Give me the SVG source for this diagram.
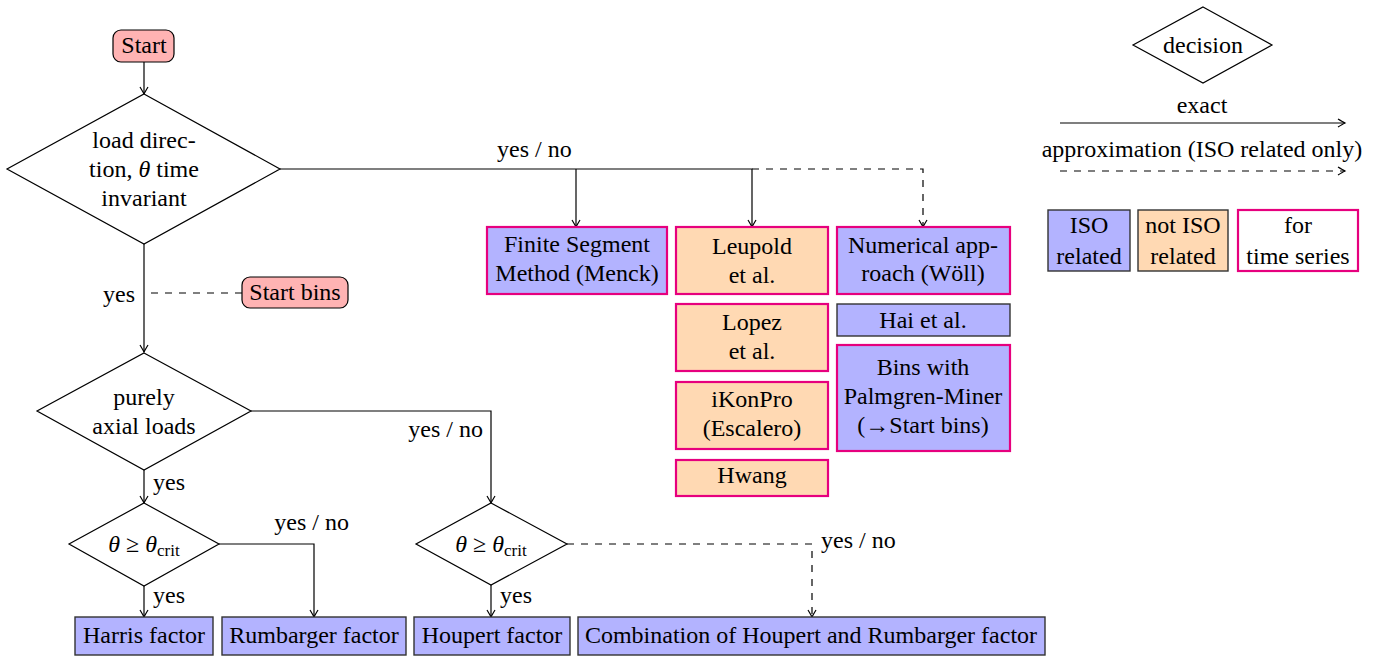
<svg xmlns="http://www.w3.org/2000/svg" width="1379" height="656" viewBox="0 0 1379 656">
<style>
text{font-family:Liberation Serif,Tinos,Times New Roman,Times,serif;font-size:24px;fill:#000;text-anchor:middle}
.l{text-anchor:start}
.e{text-anchor:end}
.dia{fill:#fff;stroke:#000;stroke-width:1.2}
.term{fill:#ffb3b3;stroke:#000;stroke-width:1.2}
.iso{fill:#b3b3ff}
.niso{fill:#ffd9b3}
.ts{stroke:#e6007e;stroke-width:2.2}
.blk{stroke:#333;stroke-width:1.4}
.wh{fill:#fff}
.c{fill:none;stroke:#000;stroke-width:1.2}
.d{stroke-dasharray:7 7}
.it{font-style:italic}
.sub{font-size:17px}
</style>
<defs>
<marker id="ar" markerUnits="userSpaceOnUse" markerWidth="12" markerHeight="12" viewBox="-8 -6 10 12" refX="0" refY="0" orient="auto">
<path d="M-7,-4 Q-2,-1 0,0 Q-2,1 -7,4" fill="none" stroke="#000" stroke-width="1.2"/>
</marker>
</defs>

<g id="connectors">
<path class="c" d="M144,62 V94" marker-end="url(#ar)"/>
<path class="c" d="M280,169 H752 V227" marker-end="url(#ar)"/>
<path class="c" d="M576,169 V227" marker-end="url(#ar)"/>
<path class="c d" d="M752,169 H923 V227" marker-end="url(#ar)"/>
<path class="c" d="M144,244 V352" marker-end="url(#ar)"/>
<path class="c d" d="M242,293 H144"/>
<path class="c" d="M144,470 V503" marker-end="url(#ar)"/>
<path class="c" d="M251,411 H491 V503" marker-end="url(#ar)"/>
<path class="c" d="M144,586 V617" marker-end="url(#ar)"/>
<path class="c" d="M219,544 H314 V617" marker-end="url(#ar)"/>
<path class="c" d="M491,585 V617" marker-end="url(#ar)"/>
<path class="c d" d="M567,544 H812 V617" marker-end="url(#ar)"/>
<path class="c" d="M1060,123 H1345" marker-end="url(#ar)"/>
<path class="c d" d="M1060,171 H1345" marker-end="url(#ar)"/>
</g>

<g id="edge-labels">
<text class="l" x="497" y="157">yes / no</text>
<text class="l" x="103" y="302">yes</text>
<text class="l" x="153" y="490">yes</text>
<text class="e" x="483" y="437">yes / no</text>
<text class="l" x="153" y="603">yes</text>
<text class="e" x="349" y="530">yes / no</text>
<text class="l" x="500" y="603">yes</text>
<text class="l" x="821" y="548">yes / no</text>
</g>

<g id="start">
<rect class="term" x="113" y="30" width="61" height="32" rx="8"/>
<text x="144" y="53">Start</text>
</g>

<g id="d-load-direction">
<polygon class="dia" points="144,94 280,169 144,244 7,169"/>
<text x="144" y="148">load direc-</text>
<text x="144" y="177">tion, <tspan class="it">θ</tspan> time</text>
<text x="144" y="206">invariant</text>
</g>

<g id="start-bins">
<rect class="term" x="242" y="277" width="106" height="31" rx="8"/>
<text x="295" y="300">Start bins</text>
</g>

<g id="d-axial">
<polygon class="dia" points="144,353 251,411 144,470 37,411"/>
<text x="144" y="405">purely</text>
<text x="144" y="434">axial loads</text>
</g>

<g id="d-theta-left">
<polygon class="dia" points="144,503 219,544 144,586 69,544"/>
<text x="144" y="552"><tspan class="it">θ</tspan> ≥ <tspan class="it">θ</tspan><tspan class="sub" dy="4">crit</tspan></text>
</g>

<g id="d-theta-right">
<polygon class="dia" points="491,503 567,544 491,585 416,544"/>
<text x="491" y="552"><tspan class="it">θ</tspan> ≥ <tspan class="it">θ</tspan><tspan class="sub" dy="4">crit</tspan></text>
</g>

<g id="harris">
<rect class="iso blk" x="75" y="617" width="138" height="38"/>
<text x="144" y="643">Harris factor</text>
</g>
<g id="rumbarger">
<rect class="iso blk" x="222" y="617" width="184" height="38"/>
<text x="314" y="643">Rumbarger factor</text>
</g>
<g id="houpert">
<rect class="iso blk" x="414" y="617" width="156" height="38"/>
<text x="492" y="643">Houpert factor</text>
</g>
<g id="combination">
<rect class="iso blk" x="578" y="617" width="467" height="38"/>
<text x="811" y="643">Combination of Houpert and Rumbarger factor</text>
</g>

<g id="finite-segment">
<rect class="iso ts" x="487" y="227" width="180" height="67"/>
<text x="577" y="252">Finite Segment</text>
<text x="577" y="281">Method (Menck)</text>
</g>
<g id="leupold">
<rect class="niso ts" x="676" y="227" width="152" height="67"/>
<text x="752" y="254">Leupold</text>
<text x="752" y="283">et al.</text>
</g>
<g id="lopez">
<rect class="niso ts" x="676" y="304" width="152" height="67"/>
<text x="752" y="330">Lopez</text>
<text x="752" y="359">et al.</text>
</g>
<g id="ikonpro">
<rect class="niso ts" x="676" y="382" width="152" height="67"/>
<text x="752" y="407">iKonPro</text>
<text x="752" y="436">(Escalero)</text>
</g>
<g id="hwang">
<rect class="niso ts" x="676" y="460" width="152" height="36"/>
<text x="752" y="483">Hwang</text>
</g>
<g id="numerical">
<rect class="iso ts" x="837" y="227" width="173" height="67"/>
<text x="923" y="253">Numerical app-</text>
<text x="923" y="281">roach (Wöll)</text>
</g>
<g id="hai">
<rect class="iso blk" x="837" y="304" width="173" height="32"/>
<text x="923" y="328">Hai et al.</text>
</g>
<g id="bins">
<rect class="iso ts" x="837" y="345" width="173" height="106"/>
<text x="923" y="375">Bins with</text>
<text x="923" y="404">Palmgren-Miner</text>
<text x="923" y="433">(→Start bins)</text>
</g>

<g id="legend">
<polygon class="dia" points="1203,7 1272,45 1203,83 1133,45"/>
<text x="1203" y="53">decision</text>
<text x="1202" y="113">exact</text>
<text x="1202" y="157">approximation (ISO related only)</text>
<rect class="iso blk" x="1048" y="210" width="82" height="61"/>
<text x="1089" y="233">ISO</text>
<text x="1089" y="264">related</text>
<rect class="niso blk" x="1138" y="210" width="90" height="61"/>
<text x="1183" y="233">not ISO</text>
<text x="1183" y="264">related</text>
<rect class="wh ts" x="1238" y="210" width="120" height="61"/>
<text x="1298" y="233">for</text>
<text x="1298" y="264">time series</text>
</g>
</svg>
